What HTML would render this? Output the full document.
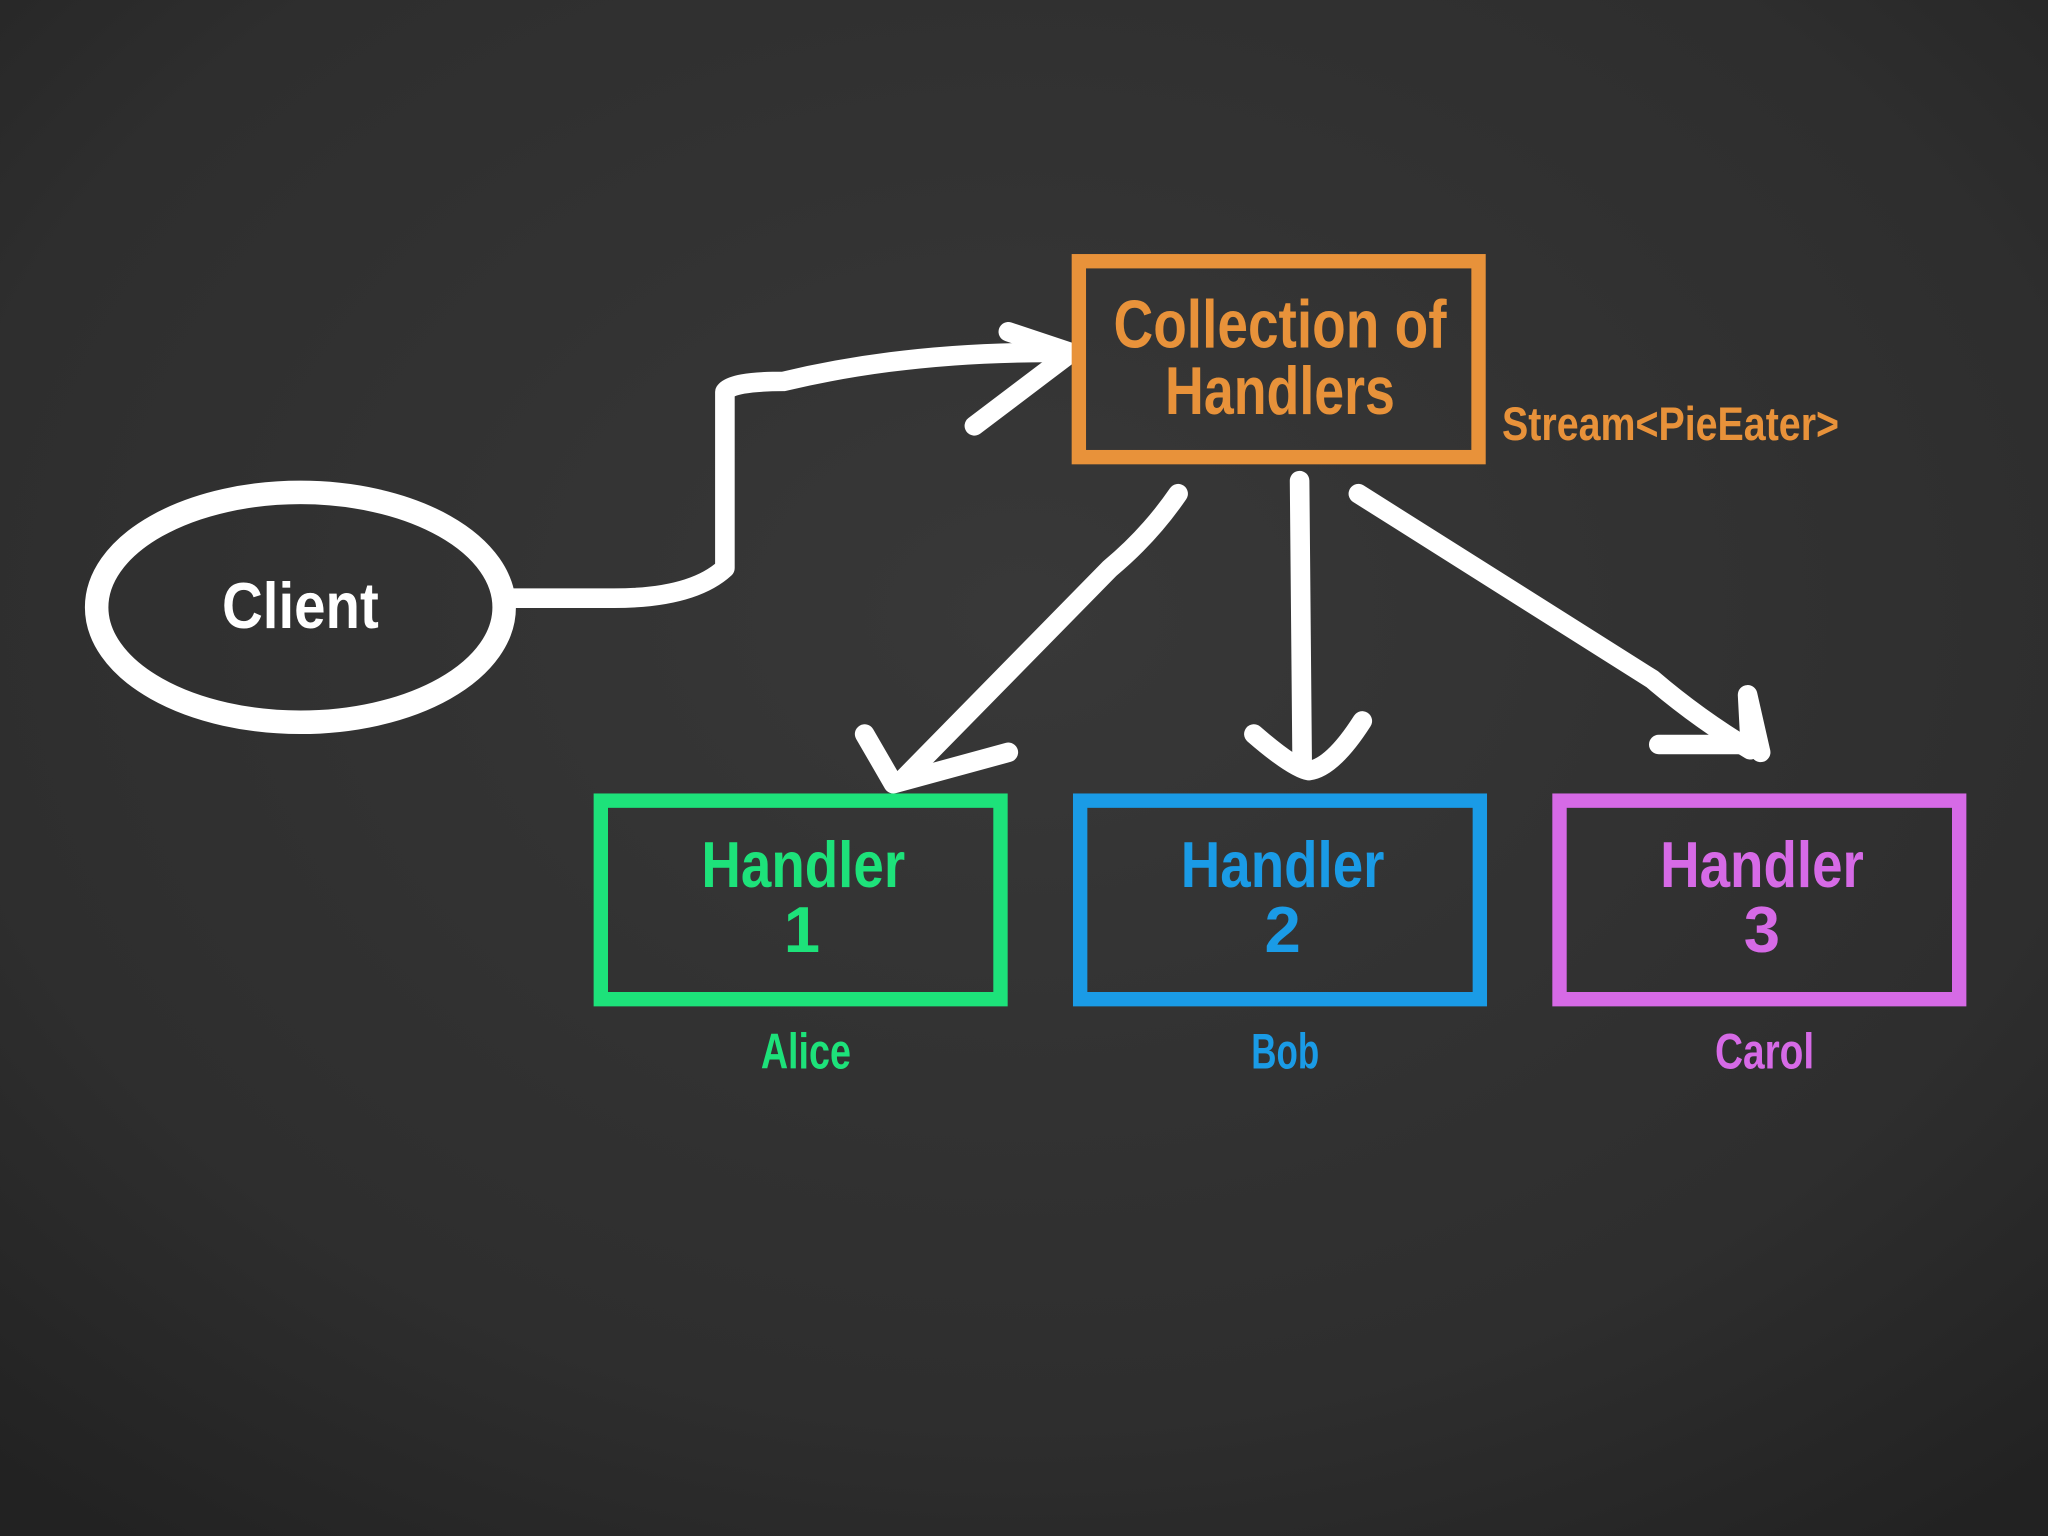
<!DOCTYPE html>
<html><head><meta charset="utf-8"><style>
html,body{margin:0;padding:0;background:#2a2a2a;}
svg{display:block;}
text{font-family:"Liberation Sans",sans-serif;font-weight:bold;text-anchor:middle;}
</style></head><body>
<svg width="2048" height="1536" viewBox="0 0 1568 1176" xmlns="http://www.w3.org/2000/svg">
<defs>
<radialGradient id="bg" cx="50%" cy="40%" r="75%">
<stop offset="0" stop-color="#383838"/><stop offset="0.7" stop-color="#2e2e2e"/><stop offset="1" stop-color="#222"/>
</radialGradient>
</defs>
<rect width="1568" height="1176" fill="url(#bg)"/>
<g fill="none" stroke="#fff" stroke-width="15" stroke-linecap="round" stroke-linejoin="round">
<ellipse cx="230" cy="465" rx="156" ry="88" stroke-width="18"/>
<path d="M392 458 L470 458 Q530 458 555 435 L555 300 Q560 292 600 292 Q700 268 820 270"/>
<path d="M772 254 L820 270 L746 326"/>
<path d="M902 378 Q880 410 850 435 L690 598"/>
<path d="M662 562 L684 600 L772 576"/>
<path d="M995 368 L997 588"/>
<path d="M960 562 Q990 588 1002 590 Q1020 588 1043 552"/>
<path d="M1040 378 L1265 520 Q1300 550 1340 574"/>
<path d="M1270 570 L1340 570 L1338 532 L1348 576"/>
</g>
<g fill="none" stroke-width="11">
<rect x="826" y="200" width="306" height="150" stroke="#e8923a"/>
<rect x="460" y="613" width="306" height="152" stroke="#1de27a"/>
<rect x="827" y="613" width="306" height="152" stroke="#1a9be6"/>
<rect x="1194" y="613" width="306" height="152" stroke="#d66ae6"/>
</g>
<g lengthAdjust="spacingAndGlyphs">
<text x="230" y="481" font-size="50" fill="#fff" textLength="120" lengthAdjust="spacingAndGlyphs">Client</text>
<text x="980" y="266" font-size="52" fill="#e8923a" textLength="255" lengthAdjust="spacingAndGlyphs">Collection of</text>
<text x="980" y="317" font-size="52" fill="#e8923a" textLength="176" lengthAdjust="spacingAndGlyphs">Handlers</text>
<text x="1279" y="337" font-size="36" fill="#e8923a" textLength="258" lengthAdjust="spacingAndGlyphs">Stream&lt;PieEater&gt;</text>
<text x="615" y="679" font-size="50" fill="#1de27a" textLength="156" lengthAdjust="spacingAndGlyphs">Handler</text>
<text x="614" y="729" font-size="50" fill="#1de27a">1</text>
<text x="982" y="679" font-size="50" fill="#1a9be6" textLength="156" lengthAdjust="spacingAndGlyphs">Handler</text>
<text x="982" y="729" font-size="50" fill="#1a9be6">2</text>
<text x="1349" y="679" font-size="50" fill="#d66ae6" textLength="156" lengthAdjust="spacingAndGlyphs">Handler</text>
<text x="1349" y="729" font-size="50" fill="#d66ae6">3</text>
<text x="617" y="818" font-size="38" fill="#1de27a" textLength="69" lengthAdjust="spacingAndGlyphs">Alice</text>
<text x="984" y="818" font-size="38" fill="#1a9be6" textLength="52" lengthAdjust="spacingAndGlyphs">Bob</text>
<text x="1351" y="818" font-size="38" fill="#d66ae6" textLength="76" lengthAdjust="spacingAndGlyphs">Carol</text>
</g>
</svg>
</body></html>
